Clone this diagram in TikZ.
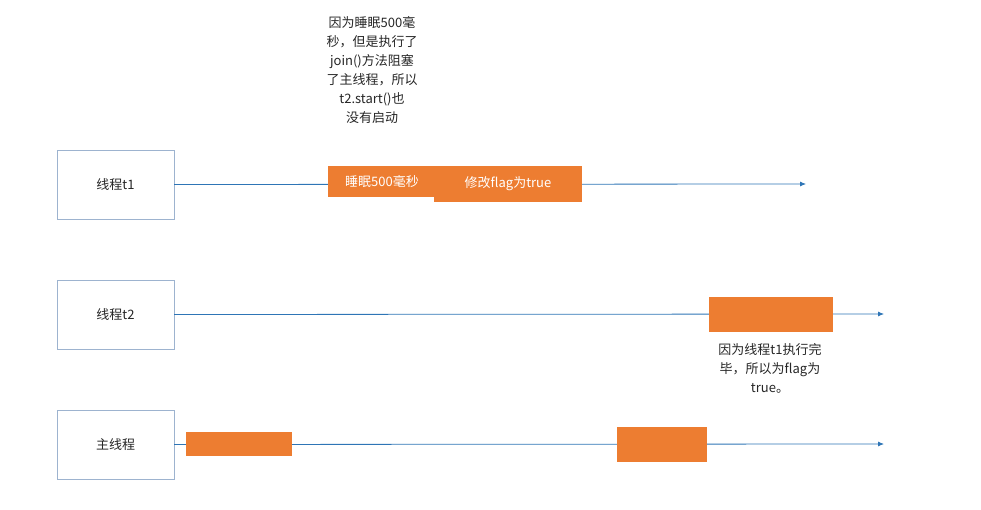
\documentclass[tikz,border=0pt]{standalone}
\usepackage{fontspec}
\newfontfamily\cjk{Noto Sans CJK SC}
\usetikzlibrary{arrows.meta}
\definecolor{ln}{HTML}{2E75B6}
\definecolor{og}{HTML}{ED7D31}
\definecolor{bx}{HTML}{9DB3CF}
\tikzset{x=1pt,y=-1pt,
 thread/.style={draw=bx,fill=white,minimum width=117pt,minimum height=69pt,inner sep=0pt,font=\cjk\fontsize{13}{15}\selectfont,text=black!85},
 bar/.style={fill=og,draw=none,inner sep=0pt,text=white,font=\cjk\fontsize{13}{15}\selectfont},
 tl/.style={draw=ln,line width=0.8pt,-{Latex[length=6pt,width=5pt]}},
 note/.style={align=center,font=\cjk\fontsize{13}{19}\selectfont,text=black!85}}
\begin{document}
\begin{tikzpicture}
\useasboundingbox (0,0) rectangle (981,510);
\node[thread] (t1) at (115.5,184.5) {线程t1};
\node[thread] (t2) at (115.5,314.5) {线程t2};
\node[thread] (tm) at (115.5,444.5) {主线程};
\coordinate (e1) at (806,184);
\coordinate (e2) at (884,314);
\coordinate (e3) at (884,444);
\draw[tl] (t1.east) -- (e1);
\draw[tl] (t2.east) -- (e2);
\draw[tl] (tm.east) -- (e3);
\node[bar,minimum width=108pt,minimum height=31pt] (s1) at (382,181.5) {睡眠500毫秒};
\node[bar,minimum width=148pt,minimum height=36pt] (s2) at (508,184) {修改flag为true};
\node[bar,minimum width=124pt,minimum height=35pt] (b2) at (771,314.5) {};
\node[bar,minimum width=106pt,minimum height=24pt] (m1) at (239,444) {};
\node[bar,minimum width=90pt,minimum height=35pt] (m2) at (662,444.5) {};
\node[note] (n1) at (372,70) {因为睡眠500毫\\秒，但是执行了\\join()方法阻塞\\了主线程，所以\\t2.start()也\\没有启动};
\node[note] (n2) at (770,368) {因为线程t1执行完\\毕，所以为flag为\\true。};
\end{tikzpicture}
\end{document}
